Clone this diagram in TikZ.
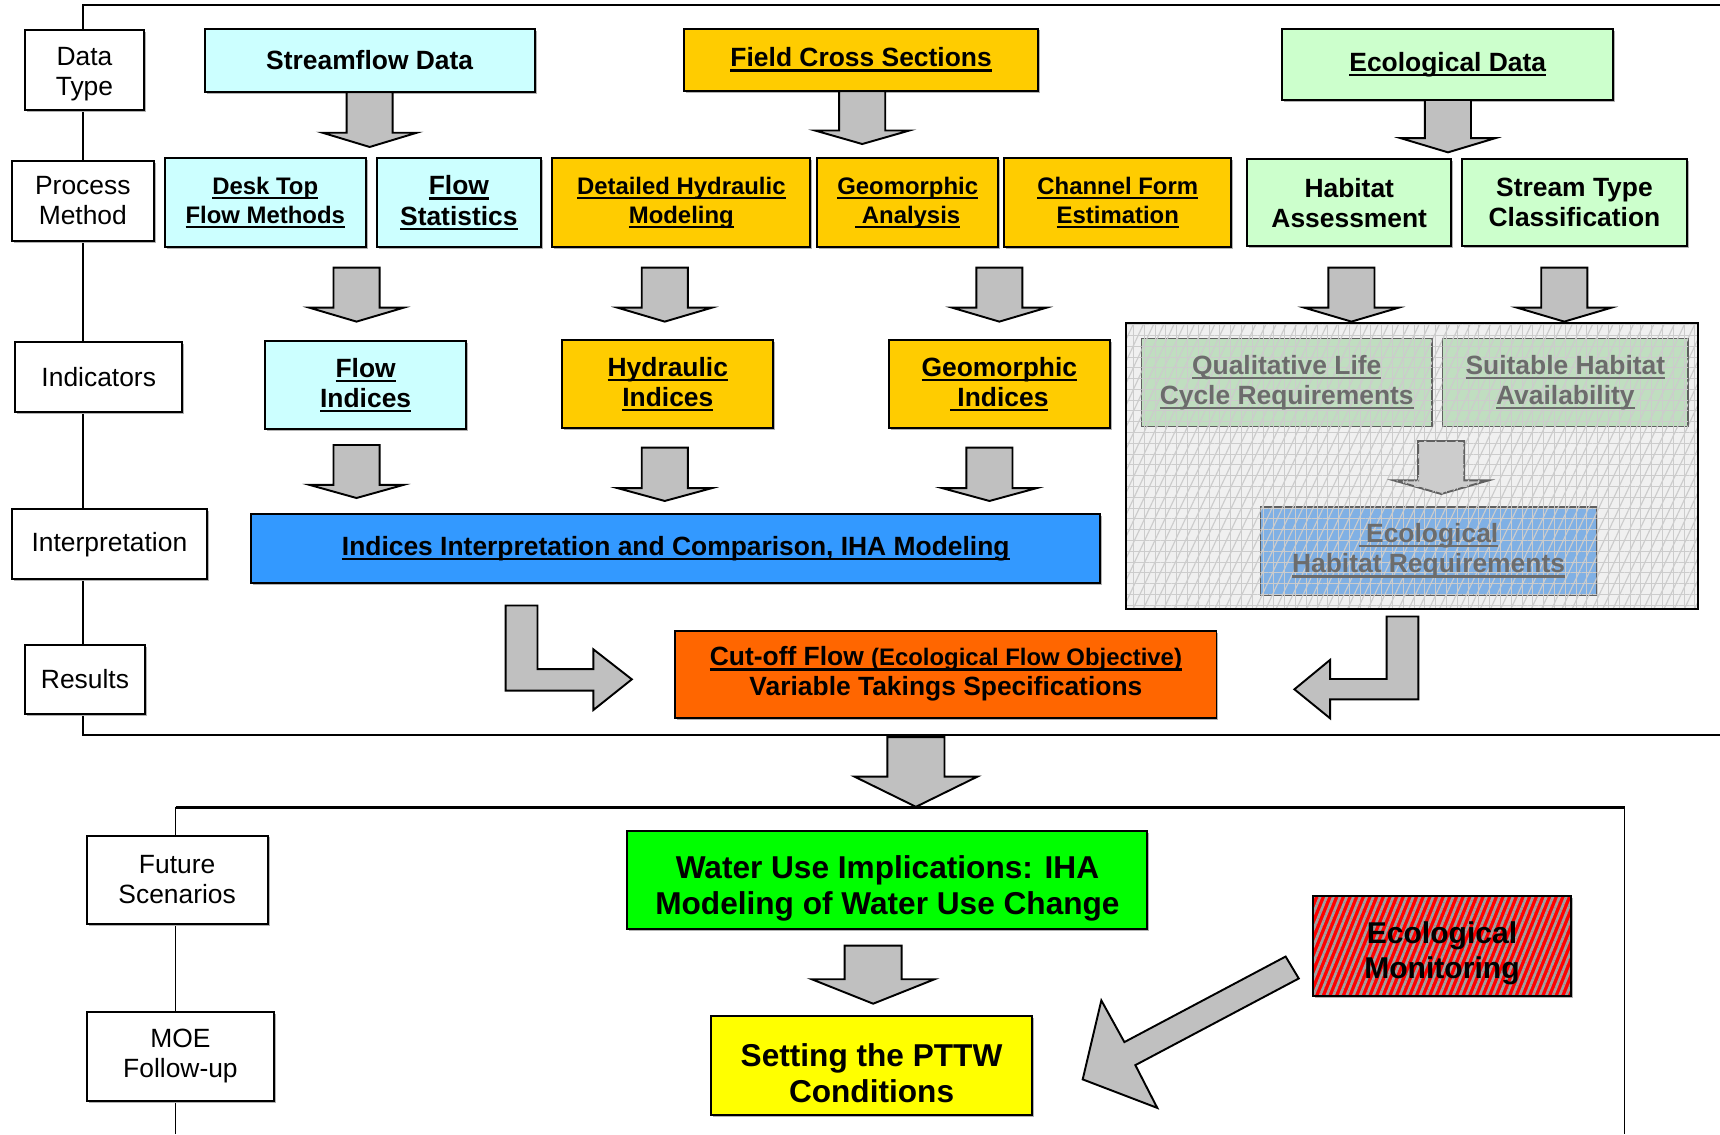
\documentclass[tikz,border=0pt]{standalone}
\usepackage{fontspec}
\setmainfont{Liberation Sans}
\usetikzlibrary{positioning, calc, shadows, patterns.meta}

\definecolor{flowcyan}{RGB}{204,255,255}
\definecolor{fieldgold}{RGB}{255,204,0}
\definecolor{ecogreen}{RGB}{204,255,204}
\definecolor{interpblue}{RGB}{51,153,255}
\definecolor{cutorange}{RGB}{255,102,0}
\definecolor{wateruse}{RGB}{0,255,0}
\definecolor{pttwyellow}{RGB}{255,255,0}
\definecolor{arrowgray}{RGB}{192,192,192}
\definecolor{fadegreen}{RGB}{192,222,192}
\definecolor{fadeblue}{RGB}{128,176,228}

\newcommand{\fs}{\fontsize{6.85}{7.8}\selectfont}
\newcommand{\fsm}{\fontsize{6.2}{7.5}\selectfont}
\newcommand{\fbig}{\fontsize{8.2}{9.4}\selectfont}
\newcommand{\undl}[1]{\setbox0=\hbox{#1}\rlap{\rule[-1.25pt]{\wd0}{0.6pt}}\box0}

\begin{document}
\begin{tikzpicture}[
    lab/.style={draw, fill=white, align=center, font=\fs, inner sep=0pt, line width=0.5pt,
                drop shadow={shadow xshift=0.5pt, shadow yshift=-0.5pt, fill=gray!60, opacity=1}},
    box/.style={draw, align=center, font=\fs\bfseries, inner sep=0pt, line width=0.5pt,
                drop shadow={shadow xshift=0.5pt, shadow yshift=-0.5pt, fill=gray!60, opacity=1}},
    sz/.style 2 args={minimum width=#1cm, minimum height=#2cm},
    hatched/.style={postaction={pattern={Hatch[angle=0, distance=2.8pt, line width=0.25pt]}, pattern color=gray!40},
                    postaction={pattern={Lines[angle=65, distance=2.4pt, line width=0.3pt]}, pattern color=gray!40}},
    faded/.style={draw=gray!75!black, text=gray!85!black, align=center, font=\fs\bfseries, inner sep=0pt, hatched},
    blockarrow/.style={draw, fill=arrowgray, line width=0.5pt, line join=miter},
    pics/downblock/.style n args={4}{code={
        \draw[blockarrow] (-#1,0) -- (#1,0) -- (#1,-#3) -- (#2,-#3) -- (0,-#4) -- (-#2,-#3) -- (-#1,-#3) -- cycle;}}
]
    \useasboundingbox (0,0) rectangle (15.68,-10.34);

    % Frames
    \draw[line width=0.5pt] (15.68,-0.049) -- (0.76,-0.049) -- (0.76,-6.70) -- (15.68,-6.70);
    \draw[line width=0.6pt] (1.60,-7.36) -- (14.81,-7.36);
    \draw[line width=0.35pt] (1.60,-10.34) -- (1.60,-7.36) (14.81,-7.36) -- (14.81,-10.34);

    % Row labels
    \node[lab, sz={1.08}{0.73}, text height=15pt] (dtype) at (0.77,-0.635) {Data\\Type};
    \node[lab, sz={1.29}{0.726}] (pmethod) at (0.755,-1.831) {Process\\Method};
    \node[lab, sz={1.52}{0.638}] (indic) at (0.90,-3.434) {Indicators};
    \node[lab, sz={1.775}{0.637}] (interp) at (0.9975,-4.962) {Interpretation};
    \node[lab, sz={1.09}{0.63}] (results) at (0.775,-6.195) {Results};
    \node[lab, sz={1.65}{0.81}] (future) at (1.615,-8.022) {Future\\Scenarios};
    \node[lab, sz={1.71}{0.806}] (moe) at (1.645,-9.631) {MOE\\Follow-up};

    % Data
    \node[box, fill=flowcyan, sz={3.01}{0.569}] (stream) at (3.37,-0.552) {Streamflow Data};
    \node[box, fill=fieldgold, sz={3.23}{0.567}] (field) at (7.85,-0.544) {\undl{Field Cross Sections}};
    \node[box, fill=ecogreen, sz={3.015}{0.645}] (ecodata) at (13.198,-0.590) {\undl{Ecological Data}};

    % Process methods
    \node[box, fill=flowcyan, sz={1.835}{0.812}, font=\fsm\bfseries] (desk) at (2.418,-1.849) {\undl{Desk Top}\\\undl{Flow Methods}};
    \node[box, fill=flowcyan, sz={1.495}{0.812}] (flowstat) at (4.183,-1.849) {\undl{Flow}\\\undl{Statistics}};
    \node[box, fill=fieldgold, sz={2.35}{0.812}, font=\fsm\bfseries] (dethyd) at (6.211,-1.849) {\undl{Detailed Hydraulic}\\\undl{Modeling}};
    \node[box, fill=fieldgold, sz={1.65}{0.812}, font=\fsm\bfseries] (geoan) at (8.275,-1.849) {\undl{Geomorphic}\\\undl{\ Analysis}};
    \node[box, fill=fieldgold, sz={2.07}{0.812}, font=\fsm\bfseries] (chan) at (10.19,-1.849) {\undl{Channel Form}\\\undl{Estimation}};
    \node[box, fill=ecogreen, sz={1.86}{0.793}] (habass) at (12.30,-1.847) {Habitat\\Assessment};
    \node[box, fill=ecogreen, sz={2.045}{0.793}] (stype) at (14.353,-1.847) {Stream Type\\Classification};

    % Indicators
    \node[box, fill=flowcyan, sz={1.835}{0.805}] (flowind) at (3.333,-3.511) {\undl{Flow}\\\undl{Indices}};
    \node[box, fill=fieldgold, sz={1.924}{0.805}] (hydind) at (6.088,-3.503) {\undl{Hydraulic}\\\undl{Indices}};
    \node[box, fill=fieldgold, sz={2.011}{0.805}] (geoind) at (9.11,-3.503) {\undl{Geomorphic}\\\undl{\ Indices}};

    % Ecological block (hatched)
    \node[fill=gray!12, hatched, sz={5.201}{2.591}, inner sep=0pt] (ecobox) at (12.8745,-4.2495) {};
    \draw[line width=0.5pt] (ecobox.north west) rectangle (ecobox.south east);
    \node[faded, fill=fadegreen, sz={2.649}{0.806}] (qual) at (11.73,-3.487) {\undl{Qualitative Life}\\\undl{Cycle Requirements}};
    \node[faded, fill=fadegreen, sz={2.24}{0.806}] (suit) at (14.27,-3.487) {\undl{Suitable Habitat}\\\undl{Availability}};
    \pic[blockarrow/.style={draw=gray!75!black, fill=gray!40, line width=0.5pt, hatched}] at (13.138,-4.02) {downblock={0.21}{0.43}{0.36}{0.483}};
    \node[faded, fill=fadeblue, sz={3.065}{0.805}] (ecohab) at (13.023,-5.022) {\undl{\ Ecological}\\\undl{Habitat Requirements}};

    % Interpretation and results
    \node[box, fill=interpblue, sz={7.74}{0.626}] (indint) at (6.16,-4.999) {\undl{Indices Interpretation and Comparison, IHA Modeling}};
    \node[box, fill=cutorange, sz={4.934}{0.792}] (cutoff) at (8.623,-6.146) {\undl{Cut-off Flow {\fsm(Ecological Flow Objective)}}\\Variable Takings Specifications};

    % Follow-up
    \node[box, fill=wateruse, sz={4.74}{0.894}, font=\fbig\bfseries, text height=19.9pt] (water) at (8.09,-8.022) {Water Use Implications: IHA\\Modeling of Water Use Change};
    \node[box, fill=pttwyellow, sz={2.93}{0.905}, font=\fbig\bfseries, text height=19.4pt] (pttw) at (7.945,-9.712) {Setting the PTTW\\Conditions};
    \node[box, preaction={fill=red}, pattern={Lines[angle=68, distance=1.6pt, line width=0.7pt]}, pattern color=gray!75,
          sz={2.35}{0.911}, font=\fontsize{7.8}{9}\selectfont\bfseries, text height=18.7pt] (ecomon) at (13.145,-8.621) {Ecological\\Monitoring};

    % Block arrows
    \pic at (3.37,-0.84) {downblock={0.21}{0.43}{0.37}{0.50}};
    \pic at (7.86,-0.83) {downblock={0.21}{0.43}{0.36}{0.483}};
    \pic at (13.20,-0.912) {downblock={0.21}{0.43}{0.348}{0.477}};
    \foreach \x in {3.25, 6.06, 9.11, 12.32, 14.26}
        \pic at (\x,-2.44) {downblock={0.21}{0.43}{0.365}{0.492}};
    \pic at (3.25,-4.057) {downblock={0.21}{0.43}{0.363}{0.483}};
    \pic at (6.06,-4.08) {downblock={0.21}{0.43}{0.37}{0.487}};
    \pic at (9.02,-4.08) {downblock={0.21}{0.43}{0.37}{0.487}};
    \pic at (8.35,-6.72) {downblock={0.26}{0.56}{0.36}{0.635}};
    \pic at (7.96,-8.62) {downblock={0.26}{0.56}{0.307}{0.53}};

    \draw[blockarrow] (4.61,-5.52) -- (4.90,-5.52) -- (4.90,-6.10) -- (5.41,-6.10) -- (5.41,-5.92) -- (5.76,-6.193)
        -- (5.41,-6.472) -- (5.41,-6.296) -- (4.61,-6.296) -- cycle;
    \draw[blockarrow] (12.93,-5.62) -- (12.93,-6.375) -- (12.125,-6.375) -- (12.125,-6.548) -- (11.80,-6.284)
        -- (12.125,-6.016) -- (12.125,-6.19) -- (12.64,-6.19) -- (12.64,-5.62) -- cycle;
    \draw[blockarrow] (11.72,-8.72) -- (10.25,-9.50) -- (10.04,-9.12) -- (9.87,-9.84) -- (10.55,-10.10)
        -- (10.35,-9.71) -- (11.84,-8.92) -- cycle;
\end{tikzpicture}
\end{document}
